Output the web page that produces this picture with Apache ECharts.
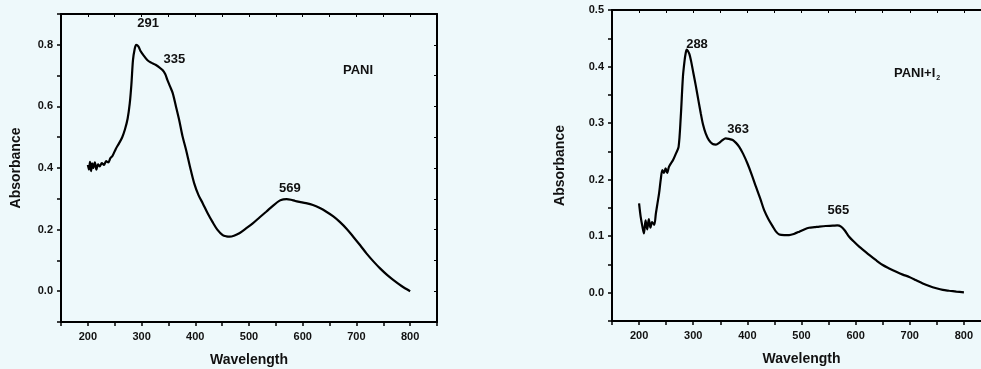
<!DOCTYPE html>
<html>
<head>
<meta charset="utf-8">
<script src="https://cdn.jsdelivr.net/npm/echarts@6/dist/echarts.min.js"></script>
<style>
  html, body { margin: 0; padding: 0; background: #eef9fb; }
  #chart { width: 981px; height: 369px; }
</style>
</head>
<body>
<div id="chart"></div>
<script>
// PANI spectrum (wavelength nm, absorbance)
let paniWl = [200, 202, 204, 206, 208, 210, 213, 216, 219, 222, 226, 230, 234, 238, 242, 246, 252, 258, 264, 269, 274, 278, 281, 284, 287, 290, 294, 298, 304, 311, 318, 326, 333, 339, 344, 348, 353, 358, 364, 370, 376, 383, 390, 398, 406, 414, 423, 432, 441, 451, 458, 464, 472, 482, 494, 507, 520, 532, 545, 557, 564, 570, 578, 586, 594, 606, 619, 632, 644, 657, 669, 682, 694, 707, 719, 732, 744, 757, 769, 784, 800];
let paniAbs = [0.41, 0.395, 0.42, 0.39, 0.415, 0.40, 0.418, 0.395, 0.412, 0.405, 0.416, 0.41, 0.422, 0.418, 0.432, 0.44, 0.462, 0.48, 0.50, 0.525, 0.56, 0.61, 0.67, 0.75, 0.785, 0.80, 0.795, 0.78, 0.765, 0.75, 0.742, 0.735, 0.727, 0.718, 0.705, 0.686, 0.665, 0.643, 0.60, 0.556, 0.505, 0.458, 0.405, 0.35, 0.312, 0.285, 0.253, 0.225, 0.2, 0.182, 0.178, 0.177, 0.18, 0.188, 0.203, 0.22, 0.24, 0.258, 0.278, 0.294, 0.298, 0.299, 0.297, 0.293, 0.29, 0.286, 0.28, 0.27, 0.258, 0.243, 0.225, 0.202, 0.177, 0.149, 0.122, 0.096, 0.074, 0.053, 0.036, 0.017, 0.0];

// PANI+I2 spectrum
let paniI2Wl = [200, 203, 206, 209, 212, 215, 218, 221, 224, 228, 231, 234, 237, 240, 243, 246, 249, 252, 255, 259, 263, 268, 273, 277, 281, 284, 286, 288, 290, 293, 296, 300, 305, 310, 314, 318, 323, 329, 336, 342, 348, 354, 360, 366, 373, 379, 385, 392, 400, 408, 416, 424, 431, 439, 447, 453, 459, 468, 477, 486, 496, 505, 514, 524, 533, 545, 558, 566, 573, 580, 588, 597, 607, 616, 625, 637, 650, 662, 675, 687, 699, 712, 724, 736, 749, 761, 773, 786, 800];
let paniI2Abs = [0.158, 0.134, 0.118, 0.105, 0.128, 0.112, 0.13, 0.115, 0.125, 0.12, 0.14, 0.158, 0.176, 0.2, 0.217, 0.212, 0.22, 0.212, 0.222, 0.229, 0.235, 0.246, 0.258, 0.311, 0.382, 0.41, 0.423, 0.43, 0.428, 0.422, 0.41, 0.39, 0.365, 0.338, 0.317, 0.298, 0.282, 0.27, 0.263, 0.262, 0.265, 0.27, 0.273, 0.272, 0.27, 0.265, 0.258, 0.246, 0.229, 0.209, 0.187, 0.166, 0.146, 0.13, 0.117, 0.108, 0.103, 0.102, 0.102, 0.104, 0.108, 0.112, 0.115, 0.116, 0.117, 0.118, 0.1185, 0.119, 0.117, 0.11, 0.099, 0.09, 0.081, 0.074, 0.067, 0.058, 0.049, 0.043, 0.037, 0.032, 0.028, 0.022, 0.0165, 0.012, 0.008, 0.005, 0.0035, 0.002, 0.0006];

// peak annotations [wavelength, absorbance, text]
let paniLabels = [[312, 0.871, '291'], [361, 0.754, '335'], [576, 0.335, '569']];
let paniI2Labels = [[307, 0.44, '288'], [383, 0.288, '363'], [568, 0.145, '565']];

let fontFam = 'Arial, "Liberation Sans", sans-serif';
let axisLine = { show: true, onZero: false, lineStyle: { color: '#000', width: 2 } };

let xTickFmt = v => (v % 100 === 0 ? String(v) : '');
// show a label every `every` hundredths, from 0 up
let yTickFmt = every => v => {
    let t = Math.round(v * 100);
    return t >= 0 && t % every === 0 ? (t / 100).toFixed(1) : '';
};

let mainX = (gi, min, max) => ({
    type: 'value', gridIndex: gi, min: min, max: max, interval: 50,
    name: 'Wavelength', nameLocation: 'middle', nameGap: 31,
    nameTextStyle: { fontFamily: fontFam, fontWeight: 'bold', fontSize: 14, color: '#111' },
    axisLine: axisLine,
    axisTick: { show: true, inside: false, length: 4, lineStyle: { color: '#000', width: 1.5 } },
    axisLabel: { formatter: xTickFmt, fontFamily: fontFam, fontWeight: 'bold', fontSize: 11, color: '#111', margin: 9 },
    splitLine: { show: false }
});
let topX = (gi, min, max) => ({
    type: 'value', gridIndex: gi, position: 'top', min: min, max: max, interval: 50,
    axisLine: axisLine,
    axisTick: { show: true, inside: true, length: 3, lineStyle: { color: '#000', width: 1 } },
    axisLabel: { show: false }, splitLine: { show: false }
});
let mainY = (gi, min, max, step, every, gap) => ({
    type: 'value', gridIndex: gi, min: min, max: max, interval: step,
    name: 'Absorbance', nameLocation: 'middle', nameGap: gap,
    nameTextStyle: { fontFamily: fontFam, fontWeight: 'bold', fontSize: 14, color: '#111' },
    axisLine: axisLine,
    axisTick: { show: true, inside: false, length: 4, lineStyle: { color: '#000', width: 1.5 } },
    axisLabel: { formatter: yTickFmt(every), fontFamily: fontFam, fontWeight: 'bold', fontSize: 11, color: '#111', margin: 8 },
    splitLine: { show: false }
});
let rightY = (gi, min, max, step) => ({
    type: 'value', gridIndex: gi, position: 'right', min: min, max: max, interval: step,
    axisLine: axisLine,
    axisTick: { show: true, inside: true, length: 3, lineStyle: { color: '#000', width: 1 } },
    axisLabel: { show: false }, splitLine: { show: false }
});

let markLabels = list => ({
    symbol: 'circle', symbolSize: 0, silent: true,
    label: { show: true, position: 'inside', formatter: p => p.name, fontFamily: fontFam, fontWeight: 'bold', fontSize: 13, color: '#111' },
    data: list.map(d => ({ name: d[2], coord: [d[0], d[1]] }))
});

let lineSeries = (xi, yi, wl, abs, labels) => ({
    type: 'line', xAxisIndex: xi, yAxisIndex: yi,
    data: wl.map((w, i) => [w, abs[i]]),
    showSymbol: false, smooth: 0.3,
    lineStyle: { color: '#000', width: 2.2 },
    markPoint: markLabels(labels),
    animation: false
});

let option = {
    backgroundColor: '#eef9fb',
    animation: false,
    grid: [
        { left: 61, top: 14, width: 376, height: 308, outerBoundsMode: 'none', show: false },
        { left: 612, top: 10, width: 379, height: 311, outerBoundsMode: 'none', show: false }
    ],
    xAxis: [mainX(0, 150, 850), topX(0, 150, 850), mainX(1, 150, 850), topX(1, 150, 850)],
    yAxis: [mainY(0, -0.1, 0.9, 0.1, 20, 38), rightY(0, -0.1, 0.9, 0.1), mainY(1, -0.05, 0.5, 0.05, 10, 45), rightY(1, -0.05, 0.5, 0.05)],
    series: [
        lineSeries(0, 0, paniWl, paniAbs, paniLabels),
        lineSeries(2, 2, paniI2Wl, paniI2Abs, paniI2Labels)
    ],
    graphic: [
        { type: 'text', left: 343, top: 64, style: { text: 'PANI', font: 'bold 13px ' + fontFam, fill: '#111' } },
        { type: 'text', left: 894, top: 67, style: {
            text: '{m|PANI+I}{s|2}',
            rich: {
                m: { font: 'bold 13px ' + fontFam, fill: '#111' },
                s: { font: 'bold 7px ' + fontFam, fill: '#111', padding: [9, 0, 0, 1] }
            }
        } }
    ]
};

let myChart = echarts.init(document.getElementById('chart'), null, { renderer: 'canvas' });
myChart.setOption(option);
</script>
</body>
</html>
